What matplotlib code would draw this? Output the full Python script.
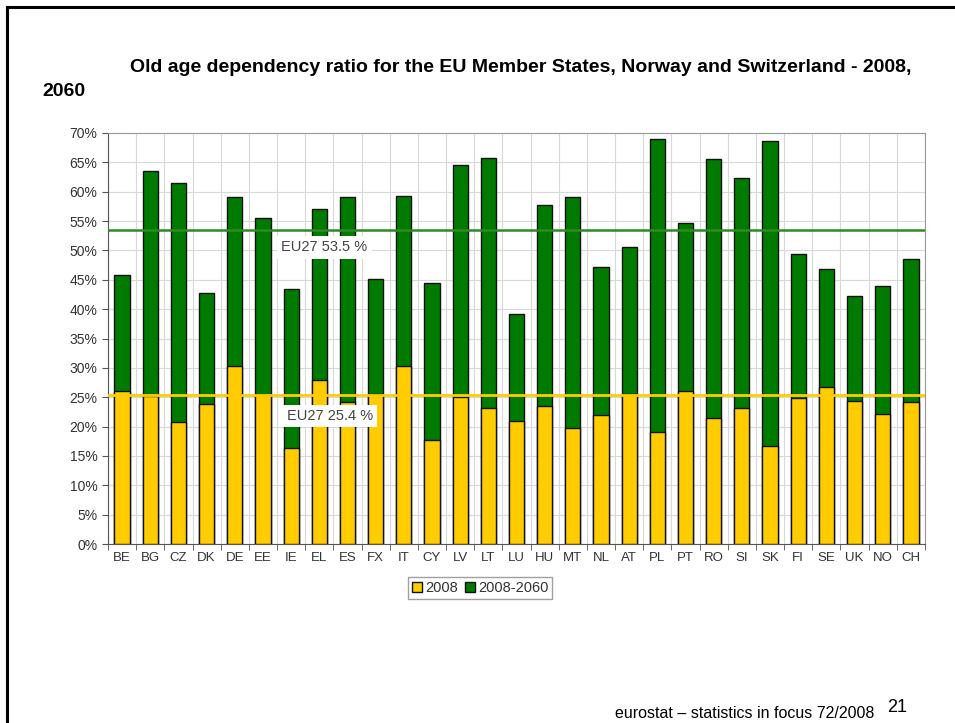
import numpy as np
import matplotlib
matplotlib.use("Agg")
import matplotlib.pyplot as plt
from matplotlib.patches import Rectangle
from matplotlib.lines import Line2D

plt.rcParams['font.family'] = ['Liberation Sans', 'DejaVu Sans']

# Datos
paises = ["BE", "BG", "CZ", "DK", "DE", "EE", "IE", "EL", "ES", "FX", "IT", "CY", "LV", "LT", "LU",
          "HU", "MT", "NL", "AT", "PL", "PT", "RO", "SI", "SK", "FI", "SE", "UK", "NO", "CH"]
ratio_2008 = [26.0, 25.2, 20.7, 23.8, 30.3, 25.3, 16.4, 27.9, 24.1, 25.5, 30.4, 17.7, 25.1, 23.1, 21.0,
              23.5, 19.8, 21.9, 25.5, 19.1, 26.1, 21.4, 23.1, 16.7, 24.9, 26.8, 24.4, 22.2, 24.2]
ratio_2060 = [45.9, 63.6, 61.5, 42.8, 59.1, 55.6, 43.5, 57.1, 59.1, 45.2, 59.2, 44.5, 64.6, 65.8, 39.2,
              57.7, 59.1, 47.2, 50.6, 69.0, 54.7, 65.5, 62.4, 68.6, 49.4, 46.8, 42.2, 43.9, 48.6]
eu27_2008 = 25.4
eu27_2060 = 53.5

amarillo = "#FFCC00"
verde = "#007A00"

W, H = 955, 723
fig = plt.figure(figsize=(W / 100, H / 100), dpi=100)

# marco de la diapositiva
fig.add_artist(Line2D([7 / W, 7 / W], [0, 1 - 7 / H], color="black", lw=2.2))
fig.add_artist(Line2D([7 / W, 1], [1 - 7 / H, 1 - 7 / H], color="black", lw=2.2))

ax = fig.add_axes([108 / W, (H - 544) / H, 817 / W, 411 / H])
x = np.arange(len(paises))
ax.bar(x, ratio_2060, width=0.54, color=verde, edgecolor="#111111", linewidth=1.0, zorder=2)
ax.bar(x, ratio_2008, width=0.54, color=amarillo, edgecolor="#111111", linewidth=1.0, zorder=3)

ax.axhline(eu27_2060, color="#2E8B22", lw=1.8, zorder=4)
ax.axhline(eu27_2008, color=amarillo, lw=2.0, zorder=4)

caja = dict(boxstyle="square,pad=0.3", facecolor="white", edgecolor="none")
ax.text(7.17, 50.5, "EU27 53.5 %", ha="center", va="center", fontsize=10.5, color="#444444",
        bbox=caja, zorder=5)
ax.text(7.38, 21.8, "EU27 25.4 %", ha="center", va="center", fontsize=10.5, color="#444444",
        bbox=caja, zorder=5)

ax.set_xlim(-0.5, len(paises) - 0.5)
ax.set_ylim(0, 70)
ax.set_xticks(x)
ax.set_xticklabels(paises, fontsize=9.5, color="#333333")
ax.set_xticks(np.arange(-0.5, len(paises), 1), minor=True)
ax.tick_params(axis="x", which="major", length=0, pad=6)
ax.tick_params(axis="x", which="minor", length=4, color="#555555")
ax.set_yticks(np.arange(0, 71, 5))
ax.set_yticklabels([f"{v}%" for v in range(0, 71, 5)], fontsize=10, color="#333333")
ax.tick_params(axis="y", length=4, color="#555555")
ax.grid(True, axis="y", color="#D8D8D8", lw=0.8, zorder=0)
ax.grid(True, axis="x", which="minor", color="#D8D8D8", lw=0.8, zorder=0)
ax.set_axisbelow(True)
for s in ["top", "right"]:
    ax.spines[s].set_color("#999999")
for s in ["left", "bottom"]:
    ax.spines[s].set_color("#555555")

# leyenda
leyenda = [Rectangle((0, 0), 1, 1, facecolor=amarillo, edgecolor="#111111", lw=1),
           Rectangle((0, 0), 1, 1, facecolor=verde, edgecolor="#111111", lw=1)]
fig.legend(leyenda, ["2008", "2008-2060"], loc="center", bbox_to_anchor=(480 / W, 1 - 588 / H),
           ncol=2, fontsize=10.5, frameon=True, fancybox=False, edgecolor="#888888",
           handlelength=0.7, handleheight=0.7, handletextpad=0.2, columnspacing=0.5,
           borderpad=0.25, labelcolor="#333333")

fig.text(130 / W, 1 - 68 / H, "Old age dependency ratio for the EU Member States, Norway and Switzerland - 2008,",
         fontsize=14, fontweight="bold", ha="left", va="center")
fig.text(42 / W, 1 - 92 / H, "2060", fontsize=14, fontweight="bold", ha="left", va="center")
fig.text(897 / W, 1 - 708 / H, "21", fontsize=13, ha="center", va="center")
fig.text(615 / W, 1 - 713 / H, "eurostat \u2013 statistics in focus 72/2008", fontsize=11.5,
         ha="left", va="center")

fig.savefig("out.png", dpi=100)
